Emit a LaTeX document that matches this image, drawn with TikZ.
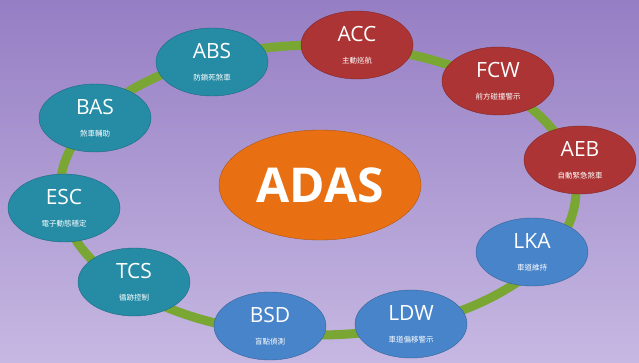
\documentclass[tikz,border=0pt]{standalone}
\usepackage{fontspec}
\setmainfont{Open Sans}
\newfontfamily\cjk{Noto Sans CJK TC}
\usetikzlibrary{shapes.geometric}

\definecolor{bgtop}{RGB}{150,126,196}
\definecolor{bgbottom}{RGB}{198,184,226}
\definecolor{ring}{RGB}{122,166,52}
\definecolor{teal}{RGB}{38,140,166}
\definecolor{redc}{RGB}{172,52,52}
\definecolor{bluec}{RGB}{72,132,202}
\definecolor{orangec}{RGB}{232,112,18}

\newcommand{\zh}[1]{\\[1pt]{\cjk\fontsize{7.5}{8}\selectfont #1}}

\begin{document}
\begin{tikzpicture}[x=1pt,y=-1pt,
  bubble/.style={ellipse, inner sep=0pt, minimum width=112pt, minimum height=68pt,
    fill=#1, draw=#1!75!black, text=white, align=center,
    font=\fontsize{21}{21}\selectfont}]

  % background
  \fill[top color=bgtop, bottom color=bgbottom] (0,0) rectangle (639,363);

  % ring
  \draw[ring, line width=9pt] (318,190) ellipse [x radius=258, y radius=145];

  \node[bubble=teal] (abs) at (212,62) {ABS\zh{防鎖死煞車}};
  \node[bubble=redc] (acc) at (357,45) {ACC\zh{主動巡航}};
  \node[bubble=redc] (fcw) at (498,81) {FCW\zh{前方碰撞警示}};
  \node[bubble=redc] (aeb) at (580,160) {AEB\zh{自動緊急煞車}};
  \node[bubble=bluec] (lka) at (532,252) {LKA\zh{車道維持}};
  \node[bubble=bluec] (ldw) at (411,324) {LDW\zh{車道偏移警示}};
  \node[bubble=bluec] (bsd) at (270,326) {BSD\zh{盲點偵測}};
  \node[bubble=teal] (tcs) at (134,282) {TCS\zh{循跡控制}};
  \node[bubble=teal] (esc) at (64,208) {ESC\zh{電子動態穩定}};
  \node[bubble=teal] (bas) at (95,118) {BAS\zh{煞車輔助}};

  \node[ellipse, inner sep=0pt, minimum width=202pt, minimum height=110pt,
    fill=orangec, draw=orangec!75!black, text=white,
    font=\bfseries\fontsize{48}{48}\selectfont] (adas) at (320,185) {ADAS};
\end{tikzpicture}
\end{document}
